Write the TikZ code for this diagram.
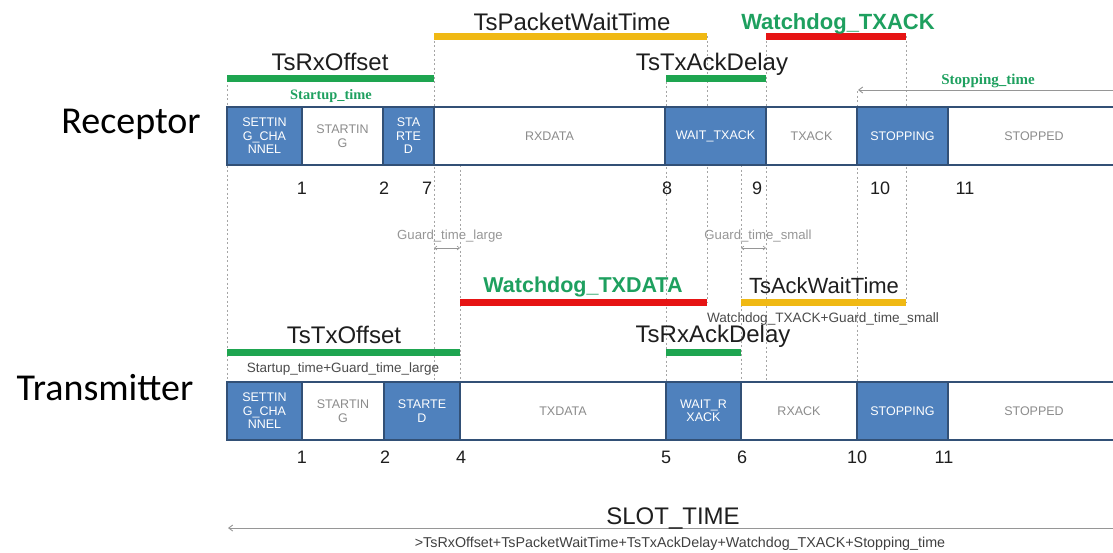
\documentclass[tikz,border=0pt]{standalone}
\usepackage{fontspec}
\setmainfont{Liberation Sans}
\newfontfamily\calfont{Carlito}
\newfontfamily\timesfont{Liberation Serif}
\usetikzlibrary{arrows.meta}

\definecolor{cellblue}{RGB}{79,129,189}
\definecolor{celledge}{RGB}{50,80,118}
\definecolor{celltext}{RGB}{140,140,140}
\definecolor{bargreen}{RGB}{30,165,80}
\definecolor{baryellow}{RGB}{240,185,20}
\definecolor{barred}{RGB}{230,20,20}
\definecolor{textgreen}{RGB}{30,160,95}
\definecolor{guidegray}{RGB}{165,165,165}
\definecolor{notegray}{RGB}{150,150,150}
\definecolor{darktext}{RGB}{30,30,30}

\tikzset{
  fs/.style={font=\fontsize{#1}{#1}\selectfont},
  fsb/.style={font=\fontsize{#1}{#1}\selectfont\bfseries},
  lbl/.style={anchor=base, inner sep=0pt, text=darktext},
  cellbase/.style={draw=celledge, line width=2pt, minimum height=58pt,
    inner sep=0pt, align=center, font=\fontsize{12.5}{13.5}\selectfont},
  bluecell/.style={cellbase, fill=cellblue, text=white},
  whitecell/.style={cellbase, fill=white, text=celltext},
  guide/.style={guidegray, line width=0.8pt, dash pattern=on 2pt off 2.5pt},
  bar/.style={line width=7pt},
  tick/.style={lbl, fs=18},
  greennote/.style={lbl, font=\timesfont\bfseries\fontsize{#1}{#1}\selectfont, text=textgreen},
  thinarrow/.style={notegray, line width=0.9pt, -{Straight Barb[length=4pt,width=6pt]}},
  guardarrow/.style={notegray, line width=0.6pt,
    {Straight Barb[length=2.5pt,width=4pt]}-{Straight Barb[length=2.5pt,width=4pt]}},
}

\begin{document}
\begin{tikzpicture}[x=1pt, y=-1pt]
\useasboundingbox (0,0) rectangle (1113,552);

% dotted guide lines marking the instants
\draw[guide] (227,80) -- (227,382);
\draw[guide] (434,36) -- (434,382);
\draw[guide] (460,165) -- (460,382);
\draw[guide] (666,77) -- (666,382);
\draw[guide] (707,36) -- (707,302);
\draw[guide] (741,165) -- (741,382);
\draw[guide] (766,36) -- (766,382);
\draw[guide] (857,91) -- (857,382);
\draw[guide] (906,36) -- (906,302);

% row titles
\node[lbl, font=\calfont\fontsize{38}{38}\selectfont, text=black] (recTitle) at (131,133) {Receptor};
\node[lbl, font=\calfont\fontsize{38}{38}\selectfont, text=black] (trTitle) at (105,400) {Transmitter};

% receptor states
\node[bluecell,  minimum width=75pt]  (rSet)      at (264.5,136) {SETTIN\\G\_CHA\\NNEL};
\node[whitecell, minimum width=81pt]  (rStarting) at (342.5,136) {STARTIN\\G};
\node[bluecell,  minimum width=51pt]  (rStarted)  at (408.5,136) {STA\\RTE\\D};
\node[whitecell, minimum width=231pt] (rData)     at (549.5,136) {RXDATA};
\node[bluecell,  minimum width=101pt] (rWait)     at (715.5,136) {WAIT\_TXACK};
\node[whitecell, minimum width=91pt]  (rAck)      at (811.5,136) {TXACK};
\node[bluecell,  minimum width=91pt]  (rStopping) at (902.5,136) {STOPPING};
\node[whitecell, minimum width=172pt] (rStopped)  at (1034,136)  {STOPPED};

% transmitter states
\node[bluecell,  minimum width=75pt]  (tSet)      at (264.5,411) {SETTIN\\G\_CHA\\NNEL};
\node[whitecell, minimum width=82pt]  (tStarting) at (343,411)   {STARTIN\\G};
\node[bluecell,  minimum width=76pt]  (tStarted)  at (422,411)   {STARTE\\D};
\node[whitecell, minimum width=206pt] (tData)     at (563,411)   {TXDATA};
\node[bluecell,  minimum width=75pt]  (tWait)     at (703.5,411) {WAIT\_R\\XACK};
\node[whitecell, minimum width=116pt] (tAck)      at (799,411)   {RXACK};
\node[bluecell,  minimum width=91pt]  (tStopping) at (902.5,411) {STOPPING};
\node[whitecell, minimum width=172pt] (tStopped)  at (1034,411)  {STOPPED};

% receptor instants
\node[tick] (r1)  at (302,194) {1};
\node[tick] (r2)  at (384,194) {2};
\node[tick] (r7)  at (427,194) {7};
\node[tick] (r8)  at (667,194) {8};
\node[tick] (r9)  at (757,194) {9};
\node[tick] (r10) at (880,194) {10};
\node[tick] (r11) at (965,194) {11};

% transmitter instants
\node[tick] (t1)  at (302,463) {1};
\node[tick] (t2)  at (385,463) {2};
\node[tick] (t4)  at (461,463) {4};
\node[tick] (t5)  at (666,463) {5};
\node[tick] (t6)  at (742,463) {6};
\node[tick] (t10) at (857,463) {10};
\node[tick] (t11) at (944,463) {11};

% receptor-side intervals
\draw[bar, baryellow] (434,36) -- (707,36);
\node[lbl, fs=24] (pktWait) at (572,30) {TsPacketWaitTime};
\draw[bar, barred] (766,36) -- (906,36);
\node[lbl, fsb=22, text=textgreen] (wdAck) at (838,29) {Watchdog\_TXACK};
\draw[bar, bargreen] (227,78) -- (434,78);
\node[lbl, fs=24] (rxOff) at (330,70) {TsRxOffset};
\node[greennote=14.4] (startup) at (331,99) {Startup\_time};
\draw[bar, bargreen] (666,78) -- (766,78);
\node[lbl, fs=24] (txAckDel) at (712,70) {TsTxAckDelay};

% stopping time
\coordinate (stopR) at (1113,90);
\coordinate (stopL) at (858,90);
\draw[thinarrow] (stopR) -- (stopL);
\node[greennote=15] (stopTime) at (988,84) {Stopping\_time};

% guard times
\coordinate (glA) at (434,248);
\coordinate (glB) at (460,248);
\draw[guardarrow] (glA) -- (glB);
\node[lbl, fs=13.2, text=notegray] (guardL) at (450,239) {Guard\_time\_large};
\coordinate (gsA) at (741,248);
\coordinate (gsB) at (766,248);
\draw[guardarrow] (gsA) -- (gsB);
\node[lbl, fs=13.2, text=notegray] (guardS) at (758,239) {Guard\_time\_small};

% transmitter-side intervals
\draw[bar, barred] (460,302) -- (707,302);
\node[lbl, fsb=21.5, text=textgreen] (wdData) at (583,292) {Watchdog\_TXDATA};
\draw[bar, baryellow] (741,302) -- (906,302);
\node[lbl, fs=22] (ackWait) at (824,293) {TsAckWaitTime};
\node[lbl, fs=13.6, text=darktext!80] (ackWaitNote) at (823,322) {Watchdog\_TXACK+Guard\_time\_small};
\draw[bar, bargreen] (666,352) -- (741,352);
\node[lbl, fs=24] (rxAckDel) at (713,342) {TsRxAckDelay};
\draw[bar, bargreen] (227,352) -- (460,352);
\node[lbl, fs=24] (txOff) at (344,343) {TsTxOffset};
\node[lbl, fs=13.5, text=darktext!80] (txOffNote) at (343,372) {Startup\_time+Guard\_time\_large};

% slot time
\coordinate (slotR) at (1113,528);
\coordinate (slotL) at (228,528);
\draw[thinarrow] (slotR) -- (slotL);
\node[lbl, fs=24] (slot) at (673,524) {SLOT\_TIME};
\node[lbl, fs=14.3, text=darktext!85] (slotNote) at (680,547) {>TsRxOffset+TsPacketWaitTime+TsTxAckDelay+Watchdog\_TXACK+Stopping\_time};
\end{tikzpicture}
\end{document}
